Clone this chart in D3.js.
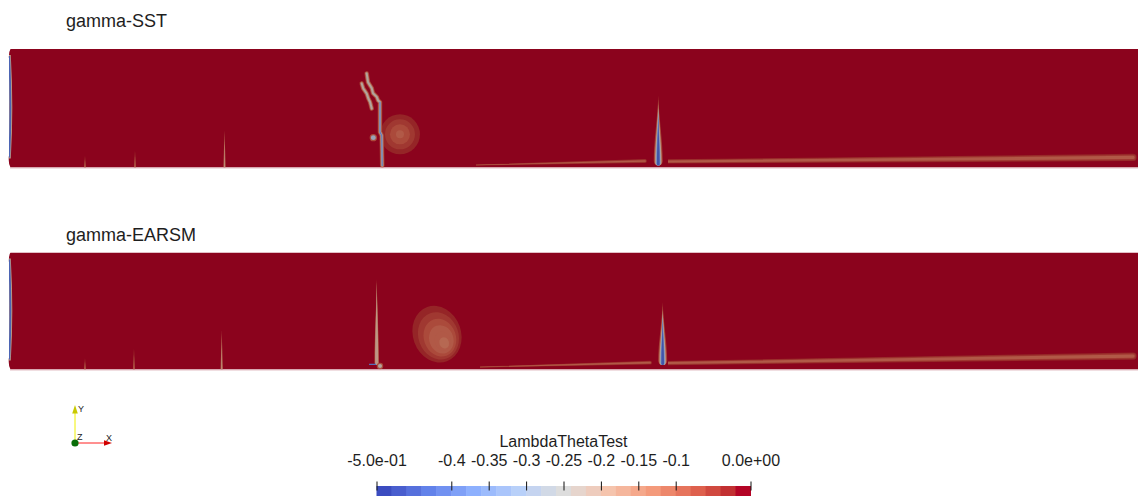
<!DOCTYPE html>
<html>
<head>
<meta charset="utf-8">
<script src="https://cdn.jsdelivr.net/npm/d3@7"></script>
<style>
  html, body { margin: 0; padding: 0; background: #ffffff; }
  svg { display: block; font-family: "Liberation Sans", Arial, sans-serif; }
</style>
</head>
<body>
<svg id="chart" width="1138" height="496"></svg>
<script>
// ---- LambdaThetaTest colour map and legend ----
const valueRange = [-0.5, 0];
const binCount = 25;
const legendTicks = [-0.5, -0.4, -0.35, -0.3, -0.25, -0.2, -0.15, -0.1, 0];
const legendLabels = ["-5.0e-01", "-0.4", "-0.35", "-0.3", "-0.25", "-0.2", "-0.15", "-0.1", "0.0e+00"];
const legendTitle = "LambdaThetaTest";
// Cool-to-warm control colours, low to high
const coolWarmStops = ["#3b4cc0", "#6282ea", "#8db0fe", "#b8d0f9", "#dddddd", "#f5c4ad", "#f49a7b", "#de604d", "#b40426"];

// ---- Field domain (channel length x, height y) ----
const xExtent = [0, 100];
const yExtent = [0, 10];
const panelTitles = ["gamma-SST", "gamma-EARSM"];
const backgroundValue = 0;

// ---- gamma-SST field features (domain units) ----
const sstStreaks = [
  { x: 6.73, h: 1.00, v: -0.06 },
  { x: 11.16, h: 1.44, v: -0.06 },
  { x: 19.09, h: 3.14, v: -0.12 }
];
const sstZigzagA = [[31.68, 7.94], [31.80, 7.20], [32.13, 6.69], [32.24, 6.27], [32.57, 5.96], [32.68, 5.68], [32.86, 5.51], [32.86, 2.99], [33.01, 2.71], [33.06, 0.17]];
const sstZigzagB = [[31.24, 7.09], [31.38, 6.67], [31.68, 6.25], [31.83, 5.82], [31.98, 5.53], [32.13, 4.97]];
const sstDots = [{ x: 32.27, y: 2.52, r: 0.22, v: -0.3 }];
const sstBlobs = [{ x: 34.63, y: 2.80, rx: 1.77, ry: 1.69, angle: 0, shift: [0.0, 0.0], levels: [-0.04, -0.06, -0.08, -0.1] }];
const sstSpikes = [{ x: 57.51, tip: 6.10, base: 0.17, hw: 0.40, depth: -0.48 }];
const sstWakes = [
  { x0: 41.36, y0: 0.21, w0: 0.04, x1: 56.33, y1: 0.55, w1: 0.16 },
  { x0: 58.37, y0: 0.51, w0: 0.18, x1: 99.56, y1: 0.85, w1: 0.31 }
];

// ---- gamma-EARSM field features (domain units) ----
const earsmStreaks = [
  { x: 6.73, h: 0.98, v: -0.06 },
  { x: 11.07, h: 1.83, v: -0.06 },
  { x: 18.84, h: 3.36, v: -0.12 }
];
const earsmDots = [{ x: 32.86, y: 0.30, r: 0.18, v: -0.24 }];
const earsmBlobs = [{ x: 37.91, y: 3.02, rx: 2.13, ry: 2.47, angle: -20, shift: [0.12, -0.12], levels: [-0.04, -0.06, -0.07, -0.09, -0.1, -0.11] }];
const earsmSpikes = [
  { x: 32.57, tip: 7.79, base: 0.38, hw: 0.20, depth: -0.24 },
  { x: 57.90, tip: 5.77, base: 0.38, hw: 0.40, depth: -0.48 }
];
const earsmTicks = [{ x0: 31.89, x1: 32.51, y: 0.43, v: -0.42 }];
const earsmWakes = [
  { x0: 41.72, y0: 0.21, w0: 0.04, x1: 56.78, y1: 0.58, w1: 0.16 },
  { x0: 58.37, y0: 0.55, w0: 0.18, x1: 99.56, y1: 1.15, w1: 0.31 }
];

const panels = [
  { title: panelTitles[0], streaks: sstStreaks,
    zigzags: [{ pts: sstZigzagA, depth: -0.27, core: sstZigzagA.slice(6) }, { pts: sstZigzagB, depth: -0.27, core: [] }],
    dots: sstDots, blobs: sstBlobs, spikes: sstSpikes, ticks: [], wakes: sstWakes },
  { title: panelTitles[1], streaks: earsmStreaks, zigzags: [], dots: earsmDots, blobs: earsmBlobs, spikes: earsmSpikes, ticks: earsmTicks, wakes: earsmWakes }
];

// ---- Colour helpers ----
const coolWarm = d3.piecewise(d3.interpolateLab, coolWarmStops);
// discrete table: bin i takes the map colour at i/(n-1)
const binColour = d3.scaleQuantize()
  .domain(valueRange)
  .range(d3.range(binCount).map(i => coolWarm(i / (binCount - 1))));
// surface colours are lit, so they render darker than the legend
const shade = 0.77;
function fieldColour(v) {
  const c = d3.rgb(binColour(Math.max(valueRange[0], Math.min(valueRange[1] - 1e-9, v))));
  return d3.rgb(c.r * shade, c.g * shade, c.b * shade).formatHex();
}

const svg = d3.select("#chart");
const width = 1138;

// ---- Panels ----
const panelBoxes = [
  { top: 49, bottom: 167.5, titleY: 27 },
  { top: 252.5, bottom: 369.5, titleY: 241 }
];
const x = d3.scaleLinear().domain(xExtent).range([9, width]);

panels.forEach((p, pi) => {
  const box = panelBoxes[pi];
  const y = d3.scaleLinear().domain(yExtent).range([box.bottom, box.top]);
  const pxPerY = (box.bottom - box.top) / (yExtent[1] - yExtent[0]);
  const pxPerX = (width - 9) / (xExtent[1] - xExtent[0]);

  svg.append("text")
    .attr("x", 66).attr("y", box.titleY)
    .attr("font-size", 18).attr("fill", "#1e1e1e")
    .text(p.title);

  const clipId = "clip" + pi;
  svg.append("clipPath").attr("id", clipId)
    .append("path")
    .attr("d", `M10.5,${box.top} L${width},${box.top} L${width},${box.bottom} L10.5,${box.bottom} Q8,${box.bottom - 4} 9,${box.bottom - 12} L9,${box.top + 10} Q8.5,${box.top + 3} 10.5,${box.top} Z`);

  const g = svg.append("g").attr("clip-path", `url(#${clipId})`);

  g.append("rect")
    .attr("x", 0).attr("y", box.top)
    .attr("width", width).attr("height", box.bottom - box.top)
    .attr("fill", fieldColour(backgroundValue));

  // inflow boundary strip
  const midY = (box.top + box.bottom) / 2;
  g.append("path")
    .attr("d", `M9.2,${box.top + 6} Q12.2,${midY} 9.2,${box.bottom - 9}`)
    .attr("fill", "none").attr("stroke", fieldColour(-0.2)).attr("stroke-width", 3.2);
  g.append("path")
    .attr("d", `M9.2,${box.top + 7} Q11.6,${midY} 9.2,${box.bottom - 10}`)
    .attr("fill", "none").attr("stroke", fieldColour(-0.44)).attr("stroke-width", 1.8);

  // thin transition streaks rising from the lower wall
  p.streaks.forEach(s => {
    [{ v: s.v, k: 1 }, { v: s.v - 0.05, k: 0.45 }].forEach(b => {
      const cx = x(s.x), top = y(s.h * (b.k === 1 ? 1 : 0.7)), bot = box.bottom;
      const hw = 1.1 * b.k;
      g.append("path")
        .attr("d", `M${cx},${top} L${cx + hw},${bot} L${cx - hw},${bot} Z`)
        .attr("fill", fieldColour(b.v));
    });
  });

  // wakes trailing downstream
  const wakeBands = [{ v: -0.03, k: 1 }, { v: -0.06, k: 0.75 }, { v: -0.09, k: 0.45 }];
  p.wakes.forEach(w => {
    wakeBands.forEach(b => {
      const x0 = x(w.x0), x1 = x(w.x1), y0 = y(w.y0), y1 = y(w.y1);
      const h0 = w.w0 * pxPerY * b.k, h1 = w.w1 * pxPerY * b.k;
      g.append("path")
        .attr("d", `M${x0},${y0 - h0} L${x1},${y1 - h1} A${h1},${h1} 0 0 1 ${x1},${y1 + h1} L${x0},${y0 + h0} Z`)
        .attr("fill", fieldColour(b.v));
    });
  });

  // circular / egg-shaped regions of negative values
  p.blobs.forEach(bl => {
    const n = bl.levels.length;
    bl.levels.forEach((v, i) => {
      const k = 1 - i / n;
      const cx = x(bl.x + bl.shift[0] * bl.rx * (1 - k) * 3);
      const cy = y(bl.y + bl.shift[1] * bl.ry * (1 - k) * 3);
      const rx = bl.rx * pxPerX * (i === n - 1 ? 0.2 : k);
      const ry = bl.ry * pxPerY * (i === n - 1 ? 0.2 : k);
      g.append("ellipse")
        .attr("transform", `translate(${cx},${cy}) rotate(${bl.angle})`)
        .attr("rx", rx).attr("ry", ry)
        .attr("fill", fieldColour(v));
    });
  });

  // zig-zag vortex traces
  const zigBands = [{ v: -0.06, w: 4.6 }, { v: -0.12, w: 3.4 }, { v: -0.24, w: 2.0 }];
  const line = d3.line().x(d => x(d[0])).y(d => y(d[1]));
  p.zigzags.forEach(z => {
    zigBands.filter(b => b.v >= z.depth).forEach(b => {
      g.append("path")
        .attr("d", line(z.pts))
        .attr("fill", "none")
        .attr("stroke", fieldColour(b.v))
        .attr("stroke-width", b.w)
        .attr("stroke-linejoin", "round")
        .attr("stroke-linecap", "round");
    });
    if (z.core.length > 1) {
      g.append("path")
        .attr("d", line(z.core))
        .attr("fill", "none")
        .attr("stroke", fieldColour(-0.4))
        .attr("stroke-width", 1.1)
        .attr("stroke-linecap", "round");
    }
  });

  // spikes standing on the lower wall
  const spikeBands = [{ v: -0.05, k: 1 }, { v: -0.1, k: 0.86 }, { v: -0.2, k: 0.7 }, { v: -0.28, k: 0.56 }, { v: -0.38, k: 0.44 }, { v: -0.45, k: 0.3 }];
  function spikePath(cx, tipY, baseY, hw) {
    const L = baseY - tipY;
    return `M${cx},${tipY} C${cx + hw * 0.2},${tipY + L * 0.35} ${cx + hw},${baseY - L * 0.35} ${cx + hw},${baseY - hw} ` +
      `A${hw},${hw} 0 0 1 ${cx - hw},${baseY - hw} ` +
      `C${cx - hw},${baseY - L * 0.35} ${cx - hw * 0.2},${tipY + L * 0.35} ${cx},${tipY} Z`;
  }
  p.spikes.forEach(s => {
    const cx = x(s.x), tipY = y(s.tip), baseY = y(s.base);
    const L = baseY - tipY;
    spikeBands.filter(b => b.v >= s.depth).forEach(b => {
      const hw = s.hw * pxPerX * b.k;
      const t = tipY + (1 - b.k) * L * (s.depth < -0.3 ? 0.42 : 0.12);
      g.append("path")
        .attr("d", spikePath(cx, t, baseY, hw))
        .attr("fill", fieldColour(b.v));
    });
  });

  p.ticks.forEach(t => {
    g.append("line")
      .attr("x1", x(t.x0)).attr("x2", x(t.x1))
      .attr("y1", y(t.y)).attr("y2", y(t.y))
      .attr("stroke", fieldColour(t.v)).attr("stroke-width", 1.2);
  });

  p.dots.forEach(d => {
    g.append("circle")
      .attr("cx", x(d.x)).attr("cy", y(d.y))
      .attr("r", d.r * pxPerX + 1.2)
      .attr("fill", fieldColour(-0.08));
    g.append("circle")
      .attr("cx", x(d.x)).attr("cy", y(d.y))
      .attr("r", d.r * pxPerX)
      .attr("fill", fieldColour(d.v));
  });

  // soft lower edge of the surface
  svg.append("line")
    .attr("x1", 10).attr("x2", width)
    .attr("y1", box.bottom + 0.4).attr("y2", box.bottom + 0.4)
    .attr("stroke", "#c98a95").attr("stroke-width", 1).attr("opacity", 0.7);
});

// ---- Orientation triad ----
const triad = svg.append("g").attr("transform", "translate(75,443)");
triad.append("line").attr("x1", 0).attr("y1", 0).attr("x2", 0).attr("y2", -31)
  .attr("stroke", "#f0f000").attr("stroke-width", 1);
triad.append("path").attr("d", "M0,-38 L-2.8,-29.5 L2.8,-29.5 Z").attr("fill", "#c8c800");
triad.append("line").attr("x1", 0).attr("y1", 0).attr("x2", 31).attr("y2", 0)
  .attr("stroke", "#ff2020").attr("stroke-width", 1);
triad.append("path").attr("d", "M37,0 L29,-2.8 L29,2.8 Z").attr("fill", "#d00000");
triad.append("circle").attr("r", 3.6).attr("fill", "#0a6e0a");
[["Y", 3, -31], ["Z", 2, -3.5], ["X", 31, -2]].forEach(([t, dx, dy]) => {
  triad.append("text").attr("x", dx).attr("y", dy)
    .attr("font-size", 9).attr("fill", "#222")
    .text(t);
});

// ---- Colour legend ----
const legendScale = d3.scaleLinear().domain(valueRange).range([376.5, 750.5]);
const binW = (valueRange[1] - valueRange[0]) / binCount;
const legend = svg.append("g");
legend.selectAll("rect")
  .data(d3.range(binCount))
  .join("rect")
  .attr("x", i => legendScale(valueRange[0] + i * binW))
  .attr("y", 486)
  .attr("width", i => legendScale(valueRange[0] + (i + 1) * binW) - legendScale(valueRange[0] + i * binW) + 0.5)
  .attr("height", 12)
  .attr("fill", i => binColour(valueRange[0] + (i + 0.5) * binW));

const legendAxis = d3.axisTop(legendScale)
  .tickValues(legendTicks)
  .tickFormat((d, i) => legendLabels[i])
  .tickSize(9)
  .tickPadding(15.5);
const axisG = legend.append("g").attr("transform", "translate(0,490.5)").call(legendAxis);
axisG.select(".domain").remove();
axisG.selectAll(".tick line").attr("stroke", "#111").attr("stroke-width", 1);
axisG.selectAll(".tick text")
  .attr("font-size", 16)
  .attr("font-family", "\"Liberation Sans\", Arial, sans-serif")
  .attr("fill", "#1e1e1e");

legend.append("text")
  .attr("x", (legendScale(valueRange[0]) + legendScale(valueRange[1])) / 2)
  .attr("y", 446.5)
  .attr("text-anchor", "middle")
  .attr("font-size", 16)
  .attr("fill", "#1e1e1e")
  .text(legendTitle);
</script>
</body>
</html>
